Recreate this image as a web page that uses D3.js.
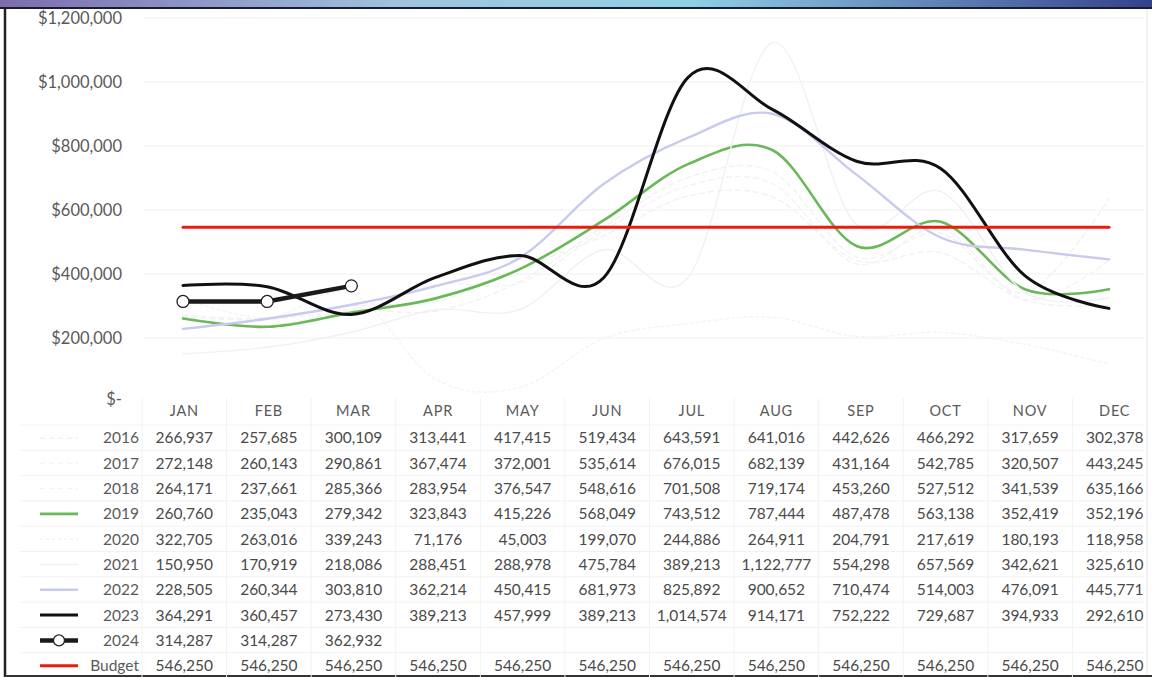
<!DOCTYPE html>
<html>
<head>
<meta charset="utf-8">
<script src="https://cdn.jsdelivr.net/npm/d3@7"></script>
<style>
  html, body { margin: 0; padding: 0; background: #fff; }
  svg { display: block; }
  text { font-family: Lato, "Open Sans", "Liberation Sans", sans-serif; }
</style>
</head>
<body>
<svg id="chart" width="1152" height="677"></svg>
<script>
const months = ["JAN","FEB","MAR","APR","MAY","JUN","JUL","AUG","SEP","OCT","NOV","DEC"];
const y2016 = [266937,257685,300109,313441,417415,519434,643591,641016,442626,466292,317659,302378];
const y2017 = [272148,260143,290861,367474,372001,535614,676015,682139,431164,542785,320507,443245];
const y2018 = [264171,237661,285366,283954,376547,548616,701508,719174,453260,527512,341539,635166];
const y2019 = [260760,235043,279342,323843,415226,568049,743512,787444,487478,563138,352419,352196];
const y2020 = [322705,263016,339243,71176,45003,199070,244886,264911,204791,217619,180193,118958];
const y2021 = [150950,170919,218086,288451,288978,475784,389213,1122777,554298,657569,342621,325610];
const y2022 = [228505,260344,303810,362214,450415,681973,825892,900652,710474,514003,476091,445771];
const y2023 = [364291,360457,273430,389213,457999,389213,1014574,914171,752222,729687,394933,292610];
const y2024 = [314287,314287,362932];
const budget = [546250,546250,546250,546250,546250,546250,546250,546250,546250,546250,546250,546250];
const yTicks = [0,200000,400000,600000,800000,1000000,1200000];

const seriesNames = ["2016","2017","2018","2019","2020","2021","2022","2023","2024","Budget"];
const seriesValues = [y2016,y2017,y2018,y2019,y2020,y2021,y2022,y2023,y2024,budget];
const seriesStyle = {
  "2016": {color:"#f2f2f5", width:1.4, dash:"5,4"},
  "2017": {color:"#f3f3f6", width:1.4, dash:"5,4"},
  "2018": {color:"#f2f2f5", width:1.4, dash:"5,4"},
  "2019": {color:"#6bb85a", width:2.6},
  "2020": {color:"#f4f4f4", width:1.4, dash:"3,3"},
  "2021": {color:"#f1f1f5", width:1.4},
  "2022": {color:"#c9cbee", width:2.4},
  "2023": {color:"#111111", width:3},
  "2024": {color:"#1a1a1a", width:4.5, marker:true},
  "Budget": {color:"#ea1c0e", width:3}
};

const svg = d3.select("#chart");

// photo-like top strip
const defs = svg.append("defs");
const grad = defs.append("linearGradient").attr("id","topgrad").attr("x1","0").attr("x2","1");
grad.append("stop").attr("offset","0%").attr("stop-color","#7c6cae");
grad.append("stop").attr("offset","35%").attr("stop-color","#9fc4e0");
grad.append("stop").attr("offset","60%").attr("stop-color","#8fd0e6");
grad.append("stop").attr("offset","100%").attr("stop-color","#34418e");
svg.append("rect").attr("x",0).attr("y",0).attr("width",1152).attr("height",8).attr("fill","url(#topgrad)");

// frame
svg.append("line").attr("x1",0).attr("x2",1152).attr("y1",8).attr("y2",8).attr("stroke","#1b1b2a").attr("stroke-width",2);
svg.append("line").attr("x1",5).attr("x2",5).attr("y1",8).attr("y2",677).attr("stroke","#222").attr("stroke-width",2.5);
svg.append("line").attr("x1",5).attr("x2",1152).attr("y1",676).attr("y2",676).attr("stroke","#333").attr("stroke-width",2);
svg.append("line").attr("x1",1147).attr("x2",1147).attr("y1",9).attr("y2",675).attr("stroke","#e6e6e6").attr("stroke-width",1);

// scales
const x = d3.scalePoint().domain(months).range([183, 1109]);
const y = d3.scaleLinear().domain([0, 1200000]).range([402, 18]);

// gridlines
svg.append("g").selectAll("line").data(yTicks.filter(d => d > 0)).join("line")
  .attr("x1", 143).attr("x2", 1145)
  .attr("y1", d => y(d)).attr("y2", d => y(d))
  .attr("stroke", "#f0f0f0").attr("stroke-width", 1);

// y axis labels
const fmt = d3.format(",");
svg.append("g").selectAll("text").data(yTicks).join("text")
  .attr("x", 122).attr("y", d => d === 0 ? y(d) - 3 : y(d))
  .attr("dy", "0.35em")
  .attr("text-anchor", "end")
  .attr("font-size", 16.5)
  .attr("fill", "#5a5a5a")
  .text(d => d === 0 ? "$-" : "$" + fmt(d));

// lines
const line = d3.line()
  .x((d, i) => x(months[i]))
  .y(d => y(d))
  .curve(d3.curveCatmullRom.alpha(0));
const line2024 = d3.line()
  .x((d, i) => x(months[i]))
  .y(d => y(d))
  .curve(d3.curveLinear);

const plotG = svg.append("g");
seriesNames.forEach((name, k) => {
  const st = seriesStyle[name];
  const vals = seriesValues[k];
  plotG.append("path")
    .datum(vals)
    .attr("fill", "none")
    .attr("stroke", st.color)
    .attr("stroke-width", st.width)
    .attr("stroke-dasharray", st.dash || null)
    .attr("stroke-linecap", "round")
    .attr("d", name === "2024" ? line2024 : line);
  if (st.marker) {
    plotG.selectAll(".m" + name).data(vals).join("circle")
      .attr("cx", (d, i) => x(months[i]))
      .attr("cy", d => y(d))
      .attr("r", 6)
      .attr("fill", "#fff")
      .attr("stroke", "#222")
      .attr("stroke-width", 1.3);
  }
});

// data table
const col = d3.scaleBand().domain(months).range([142, 1157]);
const headerY = 411;
const rowH = 25.3;
const rowY = i => 438 + i * rowH;
const tableG = svg.append("g");

// table gridlines
const hLines = d3.range(0, seriesNames.length + 1).map(i => 425 + i * rowH);
tableG.selectAll(".hl").data(hLines).join("line")
  .attr("x1", 20).attr("x2", 1145)
  .attr("y1", d => d).attr("y2", d => d)
  .attr("stroke", "#f2f2f2").attr("stroke-width", 1);
tableG.selectAll(".vl").data(months).join("line")
  .attr("x1", d => col(d)).attr("x2", d => col(d))
  .attr("y1", 398).attr("y2", 677)
  .attr("stroke", "#f2f2f2").attr("stroke-width", 1);

tableG.selectAll(".hdr").data(months).join("text")
  .attr("x", d => col(d) + col.bandwidth() / 2)
  .attr("y", headerY).attr("dy", "0.35em")
  .attr("text-anchor", "middle")
  .attr("font-size", 14.5)
  .attr("letter-spacing", 0.8)
  .attr("fill", "#5a5a5a")
  .text(d => d);

seriesNames.forEach((name, k) => {
  const st = seriesStyle[name];
  const ry = rowY(k);
  // legend key
  tableG.append("line")
    .attr("x1", 40).attr("x2", 78)
    .attr("y1", ry).attr("y2", ry)
    .attr("stroke", st.color)
    .attr("stroke-width", st.width)
    .attr("stroke-dasharray", st.dash || null);
  if (st.marker) {
    tableG.append("circle").attr("cx", 59).attr("cy", ry).attr("r", 5.5)
      .attr("fill", "#fff").attr("stroke", "#222").attr("stroke-width", 1.3);
  }
  tableG.append("text")
    .attr("x", 139).attr("y", ry).attr("dy", "0.35em")
    .attr("text-anchor", "end")
    .attr("font-size", 15.5)
    .attr("fill", "#5a5a5a")
    .text(name);
  tableG.selectAll(".v" + k).data(seriesValues[k]).join("text")
    .attr("x", (d, i) => col(months[i]) + col.bandwidth() / 2)
    .attr("y", ry).attr("dy", "0.35em")
    .attr("text-anchor", "middle")
    .attr("font-size", 15.5)
    .attr("fill", "#4a4a4a")
    .text(d => fmt(d));
});
</script>
</body>
</html>
